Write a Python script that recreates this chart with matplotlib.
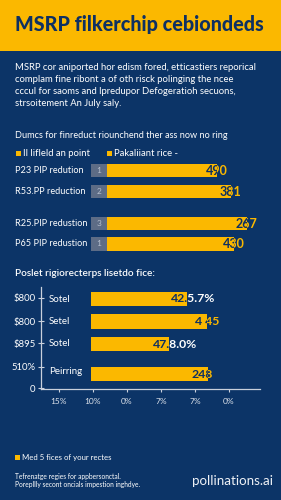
import matplotlib
matplotlib.use("Agg")
import matplotlib.pyplot as plt
from matplotlib.patches import Rectangle

# ---------------- data ----------------
title = "MSRP filkerchip cebiondeds"
intro_lines = [
    "MSRP cor aniported hor edism fored, etticastiers reporical",
    "complam fine ribont a of oth risck polinging the ncee",
    "cccul for saoms and lpredupor Defogeratioh secuons,",
    "strsoitement An July saly.",
]
sec1_heading = "Dumcs for finreduct riounchend ther ass now no ring"
sec1_legend = ["Il lifleld an point", "Pakaliiant rice -"]
sec1_labels = ["P23 PIP redution", "R53.PP reduction", "R25.PIP redustion", "P65 PIP redustion"]
sec1_ranks = ["1", "2", "3", "1"]
sec1_rank_width = [16, 16, 16, 16]
sec1_bar_len = [110, 124, 140, 127]
sec1_values = ["490", "381", "267", "430"]

sec2_heading = "Poslet rigiorecterps lisetdo fice:"
sec2_cats = ["Sotel", "Setel", "Sotel", "Peirring"]
sec2_start = [50, 50, 50, 50]
sec2_len = [96, 116, 78, 117]
sec2_values = ["42.5.7%", "4 45", "47.8.0%", "248"]
sec2_ytick_labels = ["$800", "$800", "$895", "510%", "0"]
sec2_xtick_labels = ["15%", "10%", "0%", "7%", "7%", "0%"]

footer_legend = "Med 5 fices of your rectes"
footer_lines = ["Tefrenatge regies for appbersonctal.",
                "Porepllly secont oncials impestion inghdye."]
brand = "pollinations.ai"

# ---------------- style ----------------
NAVY = "#0c3467"
YELLOW = "#fbb800"
DARK = "#0e3062"
GRAY = "#5d6c86"
WHITE = "#ffffff"
FONT = ["Lato", "DejaVu Sans"]
plt.rcParams['font.family'] = FONT

W, H = 281, 500
fig = plt.figure(figsize=(W / 100, H / 100), dpi=100)
fig.patch.set_facecolor(NAVY)

def fx(x):
    return x / W

def fy(y):
    return 1 - y / H

def ptext(x, y, s, **kw):
    kw.setdefault("color", WHITE)
    kw.setdefault("va", "center")
    return fig.text(fx(x), fy(y), s, **kw)

# header
fig.patches.append(Rectangle((0, fy(51)), 1, 51 / H, transform=fig.transFigure,
                             facecolor=YELLOW, edgecolor="none", zorder=0))
ptext(15, 25, title, color=DARK, fontsize=14.2, fontweight="black")

for i, line in enumerate(intro_lines):
    ptext(15, 67 + i * 12.3, line, fontsize=6.8)

# ---------------- section 1 ----------------
ptext(15, 136, sec1_heading, fontsize=6.6)
sq = 5
for (x0, lab) in zip([16, 107], sec1_legend):
    fig.patches.append(Rectangle((fx(x0), fy(153 + sq / 2)), sq / W, sq / H,
                                 transform=fig.transFigure, facecolor=YELLOW,
                                 edgecolor="none"))
    ptext(x0 + 7, 153, lab, fontsize=6.8)

ax1_top, ax1_bot = 160, 252
ax1 = fig.add_axes([fx(91), fy(ax1_bot), fx(271) - fx(91), (ax1_bot - ax1_top) / H])
ax1.set_xlim(0, 180)
ax1.set_ylim(ax1_bot, ax1_top)
ax1.axis("off")
rows1 = [170.5, 191.5, 223.5, 244]
bh1 = 13.5
for yc, lab, rk, rw, bl, val in zip(rows1, sec1_labels, sec1_ranks, sec1_rank_width,
                                    sec1_bar_len, sec1_values):
    ax1.barh(yc, rw, height=bh1, left=0, color=GRAY)
    ax1.barh(yc, bl, height=bh1, left=rw, color=YELLOW)
    ax1.text(rw / 2, yc, rk, color="#b8c0cf", fontsize=6, ha="center", va="center")
    ptext(15, yc, lab, fontsize=6.6)
    end = rw + bl
    x_lab = end - 11
    inside = Rectangle((rw, yc - bh1 / 2), bl, bh1, transform=ax1.transData)
    outside = Rectangle((end, yc - 20), 100, 40, transform=ax1.transData)
    t1 = ax1.text(x_lab, yc, val, color=DARK, fontsize=9.0, fontweight="bold",
                  va="center", ha="left", clip_on=True)
    t1.set_clip_path(inside)
    t2 = ax1.text(x_lab, yc, val, color=YELLOW, fontsize=9.0, fontweight="bold",
                  va="center", ha="left", clip_on=True)
    t2.set_clip_path(outside)

# ---------------- section 2 ----------------
ptext(15, 274, sec2_heading, fontsize=7.2, fontweight="semibold")
ax2_left, ax2_right, ax2_top, ax2_bot = 41, 260, 287, 389
ax2 = fig.add_axes([fx(ax2_left), fy(ax2_bot), (ax2_right - ax2_left) / W,
                    (ax2_bot - ax2_top) / H])
ax2.set_facecolor("none")
ax2.set_xlim(0, ax2_right - ax2_left)
ax2.set_ylim(0, ax2_bot - ax2_top)
for s in ["top", "right"]:
    ax2.spines[s].set_visible(False)
for s in ["left", "bottom"]:
    ax2.spines[s].set_color("#c9d0dc")
    ax2.spines[s].set_linewidth(0.9)
ax2.set_yticks([91, 68, 46, 22, 1])
ax2.set_yticklabels(sec2_ytick_labels)
ax2.set_xticks([18, 52, 86, 120, 154, 188])
ax2.set_xticklabels(sec2_xtick_labels)
ax2.tick_params(axis="y", direction="inout", length=4, width=0.8, colors="#c9d0dc",
                labelcolor=WHITE, labelsize=6.8, pad=2)
ax2.tick_params(axis="x", direction="out", length=2.5, width=0.8, colors="#c9d0dc",
                labelcolor="#dfe4ec", labelsize=6.0, pad=4)
rows2 = [90, 67.5, 45, 15]
bh2 = 14.5
out_colors = [WHITE, YELLOW, WHITE, YELLOW]
for yc, cat, st, ln, val, oc in zip(rows2, sec2_cats, sec2_start, sec2_len,
                                     sec2_values, out_colors):
    ax2.barh(yc, ln, height=bh2, left=st, color=YELLOW)
    cy = yc if cat != "Peirring" else yc + 2
    ax2.text(8, cy, cat, color=WHITE, fontsize=7.0, va="center", ha="left")
    end = st + ln
    x_lab = end - 16 if val != "4 45" else end - 12
    inside = Rectangle((st, yc - bh2 / 2), ln, bh2, transform=ax2.transData)
    outside = Rectangle((end, yc - 20), 200, 40, transform=ax2.transData)
    t1 = ax2.text(x_lab, yc, val, color=DARK, fontsize=8.8, fontweight="bold",
                  va="center", ha="left", clip_on=True)
    t1.set_clip_path(inside)
    t2 = ax2.text(x_lab, yc, val, color=oc, fontsize=8.8, fontweight="bold",
                  va="center", ha="left", clip_on=True)
    t2.set_clip_path(outside)

# ---------------- footer ----------------
fig.patches.append(Rectangle((fx(15), fy(460)), 5 / W, 5 / H, transform=fig.transFigure,
                             facecolor=YELLOW, edgecolor="none"))
ptext(22, 457.5, footer_legend, fontsize=5.6)
ptext(15, 476, footer_lines[0], fontsize=4.8)
ptext(15, 485, footer_lines[1], fontsize=4.8)
ptext(273, 481, brand, fontsize=9.6, ha="right", fontweight="normal", color="#eef1f6")

fig.savefig("out.png", dpi=100, facecolor=NAVY)
